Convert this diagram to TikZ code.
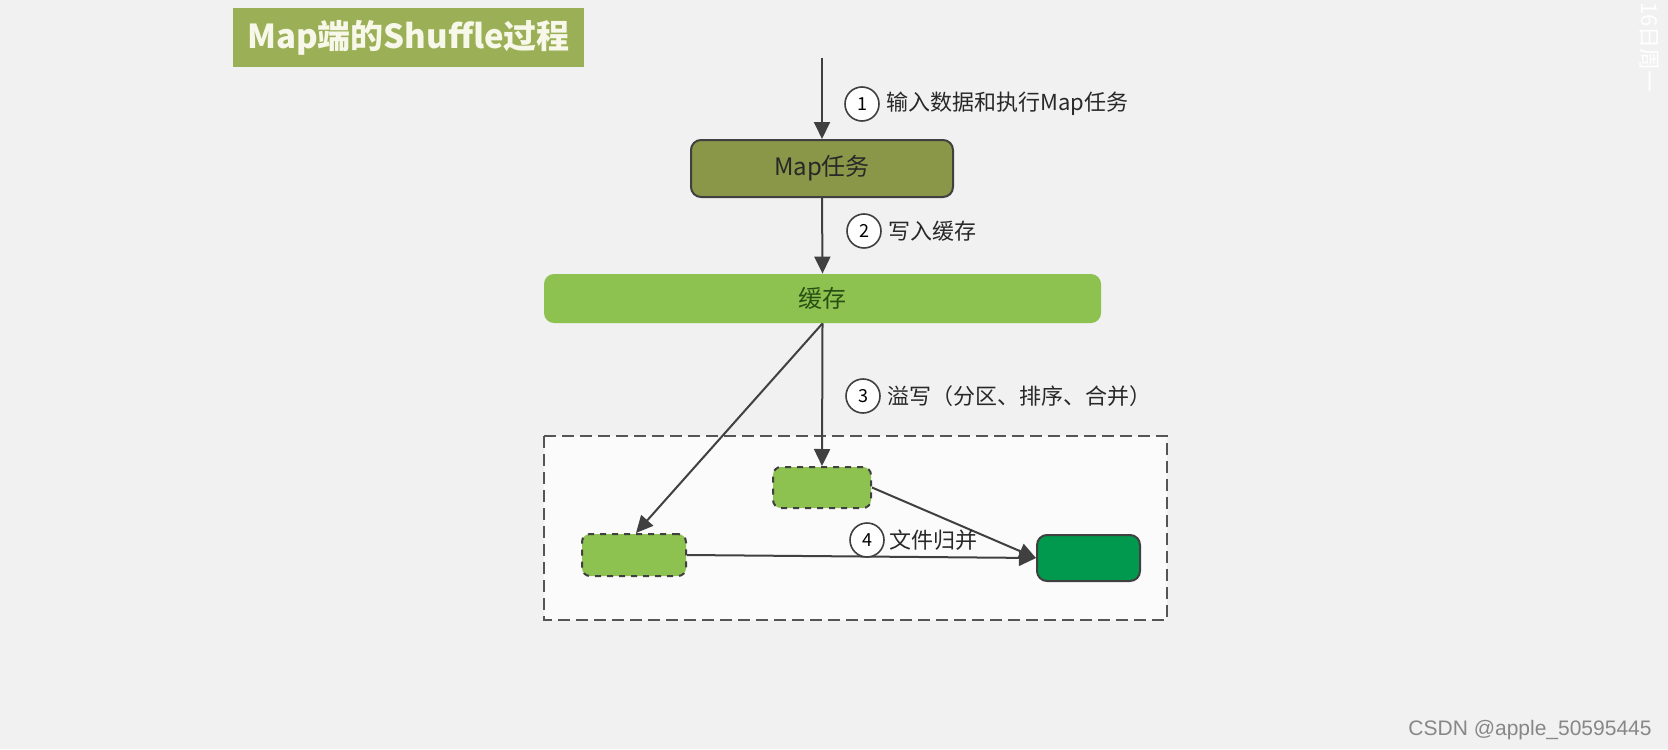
\documentclass[tikz,border=0pt]{standalone}
\usepackage{fontspec}
\setmainfont{Noto Sans CJK SC}
\newfontfamily\wmfont{Liberation Sans}
\usetikzlibrary{arrows.meta,positioning}

\definecolor{bggray}{RGB}{241,241,241}
\definecolor{titlegreen}{RGB}{155,176,86}
\definecolor{mapolive}{RGB}{138,150,72}
\definecolor{cachegreen}{RGB}{141,193,80}
\definecolor{mergegreen}{RGB}{0,153,77}
\definecolor{linegray}{RGB}{64,64,64}
\definecolor{textgray}{RGB}{40,40,40}

\begin{document}
\begin{tikzpicture}[x=0.5pt, y=-0.5pt,
  flow/.style={draw=linegray, line width=1pt, -{Triangle[length=8.5pt,width=8pt]}},
  stepnum/.style={circle, draw=linegray, fill=white, line width=0.8pt, minimum size=17pt, inner sep=0pt, font=\fontsize{9}{9}\selectfont},
  steptext/.style={anchor=west, inner sep=0pt, text=textgray, font=\fontsize{11}{11}\selectfont},
  spillbox/.style={rounded corners=4pt, fill=cachegreen, draw=linegray, dashed, line width=1pt, minimum width=49pt, minimum height=20.5pt}]

  % page and background
  \fill[bggray] (0,0) rectangle (1668,749);
  \useasboundingbox (0,0) rectangle (1668,749);

  % title
  \node[fill=titlegreen, minimum width=175.5pt, minimum height=29.5pt, inner sep=0pt,
        text={rgb,255:red,247;green,247;blue,234}, font=\fontsize{16.5}{16.5}\selectfont\bfseries]
        (title) at (408.5,37.5) {Map端的Shuffle过程};

  % spill area
  \draw[draw={rgb,255:red,85;green,85;blue,85}, fill={rgb,255:red,251;green,251;blue,251},
        line width=0.8pt, dash pattern=on 6pt off 3pt] (544,436) rectangle (1167,620);

  % boxes
  \coordinate (input) at (822,58);
  \node[draw=linegray, fill=mapolive, rounded corners=5pt, line width=1pt, minimum width=131pt,
        minimum height=28.5pt, text=textgray, font=\fontsize{12}{12}\selectfont] (map) at (822,168.5) {Map任务};
  \node[fill=cachegreen, rounded corners=5pt, minimum width=278.5pt, minimum height=24.5pt,
        text={rgb,255:red,40;green,80;blue,20}, font=\fontsize{12}{12}\selectfont] (cache) at (822.5,298.5) {缓存};
  \node[spillbox] (spillA) at (822,487.5) {};
  \node[spillbox, minimum width=52pt, minimum height=21pt] (spillB) at (634,555) {};
  \node[draw=linegray, fill=mergegreen, rounded corners=5pt, line width=1pt, minimum width=51.5pt,
        minimum height=23pt] (merged) at (1088.5,558) {};

  % connectors
  \draw[flow] (input) -- (map.north);
  \draw[flow] (map.south) -- (cache.north);
  \draw[flow] (cache.south) -- (spillA.north);
  \draw[flow] (cache.south) -- ([xshift=1pt]spillB.north);
  \draw[flow] (spillA.east) -- (merged.west);
  \draw[flow] (spillB.east) -- (merged.west);

  % step labels
  \node[stepnum] (s1) at (862,104) {1};
  \node[steptext, right=3pt of s1] (t1) {输入数据和执行Map任务};
  \node[stepnum] (s2) at (864,231) {2};
  \node[steptext, right=3pt of s2] (t2) {写入缓存};
  \node[stepnum] (s3) at (863,396) {3};
  \node[steptext, right=3pt of s3] (t3) {溢写（分区、排序、合并）};
  \node[stepnum] (s4) at (867,540) {4};
  \node[steptext, right=2pt of s4] (t4) {文件归并};

  % overlays
  \node[rotate=-90, anchor=west, inner sep=0pt, text=white, font=\fontsize{11}{11}\selectfont]
        (clock) at (1649,2) {16日周一};
  \node[anchor=east, inner sep=0pt, text={rgb,255:red,135;green,135;blue,135},
        font=\wmfont\fontsize{10.5}{10.5}\selectfont] (mark) at (1652,730) {CSDN @apple\_50595445};
\end{tikzpicture}
\end{document}
